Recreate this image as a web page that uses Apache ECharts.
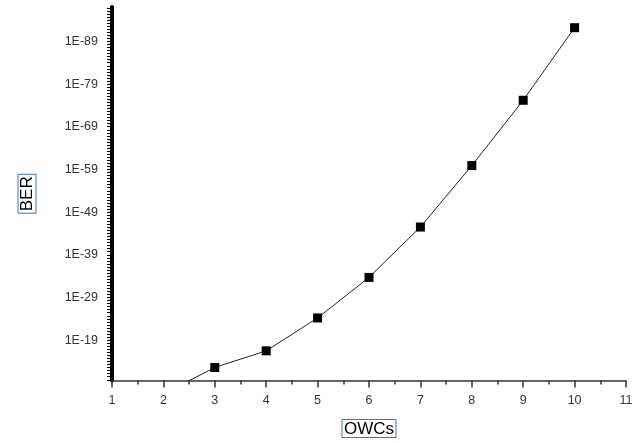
<!DOCTYPE html>
<html>
<head>
<meta charset="utf-8">
<script src="https://cdn.jsdelivr.net/npm/echarts@6/dist/echarts.min.js"></script>
<style>html,body{margin:0;padding:0;background:#fff;}#c{width:642px;height:443px;}</style>
</head>
<body>
<div id="c"></div>
<script>
// x: number of OWCs, y: BER exponent (BER = 1E-y)
var owcs = [2, 3, 4, 5, 6, 7, 8, 9, 10];
var berExp = [6.4, 12.6, 16.5, 24.2, 33.7, 45.5, 59.9, 75.2, 92.2];
var yLabelValues = [19, 29, 39, 49, 59, 69, 79, 89];
var xTicks = [1, 2, 3, 4, 5, 6, 7, 8, 9, 10, 11];

var yMin = 9.55, yMax = 97.05;
var minorTicks = [];
var step = 10 / 14;
for (var t = 19; t >= yMin; t -= step) minorTicks.push(+t.toFixed(4));
for (var t2 = 19 + step; t2 <= yMax; t2 += step) minorTicks.push(+t2.toFixed(4));

var chart = echarts.init(document.getElementById('c'));
chart.setOption({
  animation: false,
  backgroundColor: '#fff',
  grid: {left: 112, right: 16, top: 7, bottom: 59, containLabel: false},
  xAxis: {
    type: 'value', min: 1, max: 11, interval: 1,
    name: 'OWCs', nameLocation: 'middle', nameGap: 39,
    nameTextStyle: {fontFamily: 'Liberation Sans', fontSize: 17, color: '#000',
      borderColor: '#3b6fe0', borderWidth: 1, padding: [1, 2, 0, 2]},
    axisLine: {show: true, lineStyle: {color: '#333', width: 1.5}},
    axisTick: {show: true, length: 7, lineStyle: {color: '#333', width: 1.5}},
    minorTick: {show: true, splitNumber: 2, length: 4, lineStyle: {color: '#333', width: 1.5}},
    axisLabel: {fontFamily: 'Liberation Sans', fontSize: 12.5, color: '#334', margin: 14},
    splitLine: {show: false}
  },
  yAxis: {
    type: 'value', min: yMin, max: yMax,
    name: 'BER', nameLocation: 'middle', nameGap: 76, nameRotate: 90,
    nameTextStyle: {fontFamily: 'Liberation Sans', fontSize: 17, color: '#000',
      borderColor: '#3b6fe0', borderWidth: 1, padding: [1, 2, 0, 2]},
    axisLine: {show: true, lineStyle: {color: '#000', width: 4}},
    axisTick: {show: true, length: 5, customValues: minorTicks, lineStyle: {color: '#000', width: 1}},
    axisLabel: {customValues: yLabelValues, fontFamily: 'Liberation Sans', fontSize: 12.5, color: '#333', margin: 14,
      formatter: function (v) { return '1E-' + Math.round(v); }},
    splitLine: {show: false}
  },
  series: [{
    type: 'line',
    data: owcs.map(function (x, i) { return [x, berExp[i]]; }),
    clip: true,
    symbol: 'rect', symbolSize: 9,
    itemStyle: {color: '#000'},
    lineStyle: {color: '#222', width: 1}
  }]
});
</script>
</body>
</html>
